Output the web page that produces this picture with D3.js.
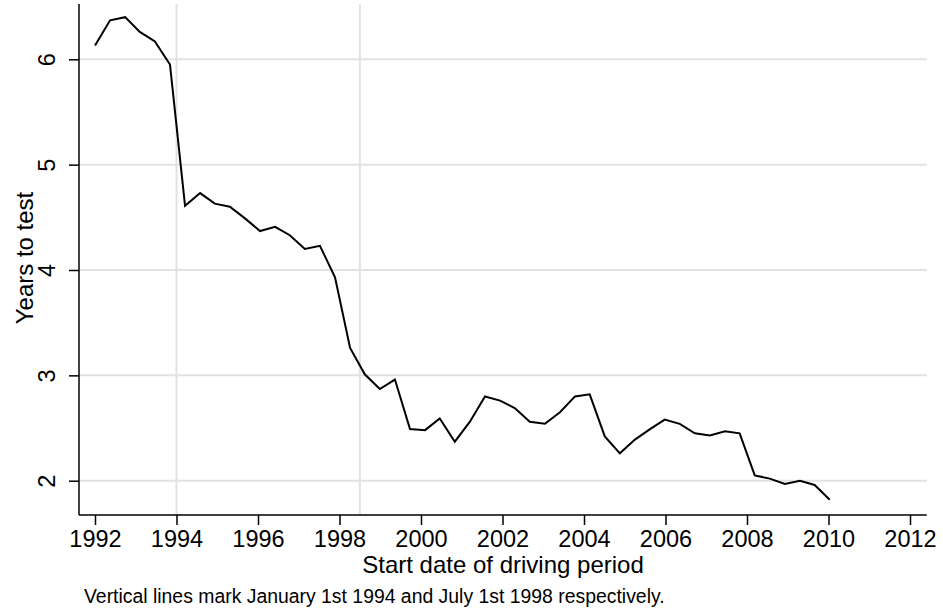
<!DOCTYPE html>
<html>
<head>
<meta charset="utf-8">
<script src="https://cdn.jsdelivr.net/npm/d3@7"></script>
<style>
  html, body { margin: 0; padding: 0; background: #fff; }
  svg { display: block; font-family: "Liberation Sans", Arial, Helvetica, sans-serif; }
</style>
</head>
<body>
<svg id="chart" width="943" height="614"></svg>
<script>
// ---- data ----
const startDates = [
  1992.00, 1992.37, 1992.74, 1993.10, 1993.47, 1993.84, 1994.21, 1994.58, 1994.94, 1995.31,
  1995.68, 1996.05, 1996.42, 1996.78, 1997.15, 1997.52, 1997.89, 1998.26, 1998.62, 1998.99,
  1999.36, 1999.73, 2000.10, 2000.46, 2000.83, 2001.20, 2001.57, 2001.94, 2002.30, 2002.67,
  2003.04, 2003.41, 2003.78, 2004.14, 2004.51, 2004.88, 2005.25, 2005.62, 2005.98, 2006.35,
  2006.72, 2007.09, 2007.46, 2007.82, 2008.19, 2008.56, 2008.93, 2009.30, 2009.66, 2010.03
];
const yearsToTest = [
  6.13, 6.37, 6.40, 6.26, 6.17, 5.95, 4.61, 4.73, 4.63, 4.60,
  4.49, 4.37, 4.41, 4.33, 4.20, 4.23, 3.93, 3.26, 3.01, 2.87,
  2.96, 2.49, 2.48, 2.59, 2.37, 2.56, 2.80, 2.76, 2.69, 2.56,
  2.54, 2.65, 2.80, 2.82, 2.42, 2.26, 2.39, 2.49, 2.58, 2.54,
  2.45, 2.43, 2.47, 2.45, 2.05, 2.02, 1.97, 2.00, 1.96, 1.82
];
const xTicks = [1992, 1994, 1996, 1998, 2000, 2002, 2004, 2006, 2008, 2010, 2012];
const yTicks = [2, 3, 4, 5, 6];
const markerDates = [1994, 1998.5];
const xTitle = "Start date of driving period";
const yTitle = "Years to test";
const note = "Vertical lines mark January 1st 1994 and July 1st 1998 respectively.";

// ---- layout ----
const plotLeft = 79, plotRight = 926.7, plotTop = 4, plotBottom = 515;
const x = d3.scaleLinear().domain([1992, 2012]).range([95, 910]);
const y = d3.scaleLinear().domain([2, 6]).range([480.7, 59.3]);

const svg = d3.select("#chart");
const grid = "#e2e2e2";

// horizontal gridlines
svg.append("g").selectAll("line").data(yTicks).join("line")
  .attr("x1", plotLeft).attr("x2", plotRight)
  .attr("y1", d => y(d)).attr("y2", d => y(d))
  .attr("stroke", grid).attr("stroke-width", 2);

// vertical marker lines
svg.append("g").selectAll("line").data(markerDates).join("line")
  .attr("x1", d => x(d)).attr("x2", d => x(d))
  .attr("y1", plotTop).attr("y2", plotBottom)
  .attr("stroke", grid).attr("stroke-width", 2);

// data line
const line = d3.line().x((d, i) => x(startDates[i])).y(d => y(d));
svg.append("path").datum(yearsToTest)
  .attr("d", line)
  .attr("fill", "none").attr("stroke", "#000").attr("stroke-width", 2)
  .attr("stroke-linejoin", "miter");

// x axis
const xAxis = d3.axisBottom(x).tickValues(xTicks).tickFormat(d3.format("d"))
  .tickSize(10).tickPadding(5);
const gx = svg.append("g").attr("transform", `translate(0,${plotBottom})`).call(xAxis);
gx.select(".domain").attr("d", `M${plotLeft},0H${plotRight}`).attr("stroke", "#000").attr("stroke-width", 1.5);
gx.selectAll(".tick line").attr("stroke", "#000").attr("stroke-width", 1.5);
gx.selectAll(".tick text").attr("font-size", 23.5).attr("fill", "#000")
  .attr("font-family", '"Liberation Sans", Arial, sans-serif')
  .attr("dy", null).attr("y", 31.7);

// y axis
const yAxis = d3.axisLeft(y).tickValues(yTicks).tickFormat(d3.format("d"))
  .tickSize(10).tickPadding(14);
const gy = svg.append("g").attr("transform", `translate(${plotLeft},0)`).call(yAxis);
gy.select(".domain").attr("d", `M0,${plotTop}V${plotBottom}`).attr("stroke", "#000").attr("stroke-width", 1.5);
gy.selectAll(".tick line").attr("stroke", "#000").attr("stroke-width", 1.5);
gy.selectAll(".tick text")
  .attr("font-size", 23.5).attr("fill", "#000")
  .attr("font-family", '"Liberation Sans", Arial, sans-serif')
  .attr("x", null).attr("dy", null)
  .attr("text-anchor", "middle")
  .attr("transform", "translate(-24,0) rotate(-90)");

// titles
svg.append("text")
  .attr("x", 503).attr("y", 573.3)
  .attr("text-anchor", "middle").attr("font-size", 24).attr("fill", "#000")
  .text(xTitle);

svg.append("text")
  .attr("transform", "translate(33,258) rotate(-90)")
  .attr("text-anchor", "middle").attr("font-size", 24).attr("fill", "#000")
  .text(yTitle);

svg.append("text")
  .attr("x", 84).attr("y", 603.3)
  .attr("text-anchor", "start").attr("font-size", 19.4).attr("fill", "#000")
  .text(note);
</script>
</body>
</html>
